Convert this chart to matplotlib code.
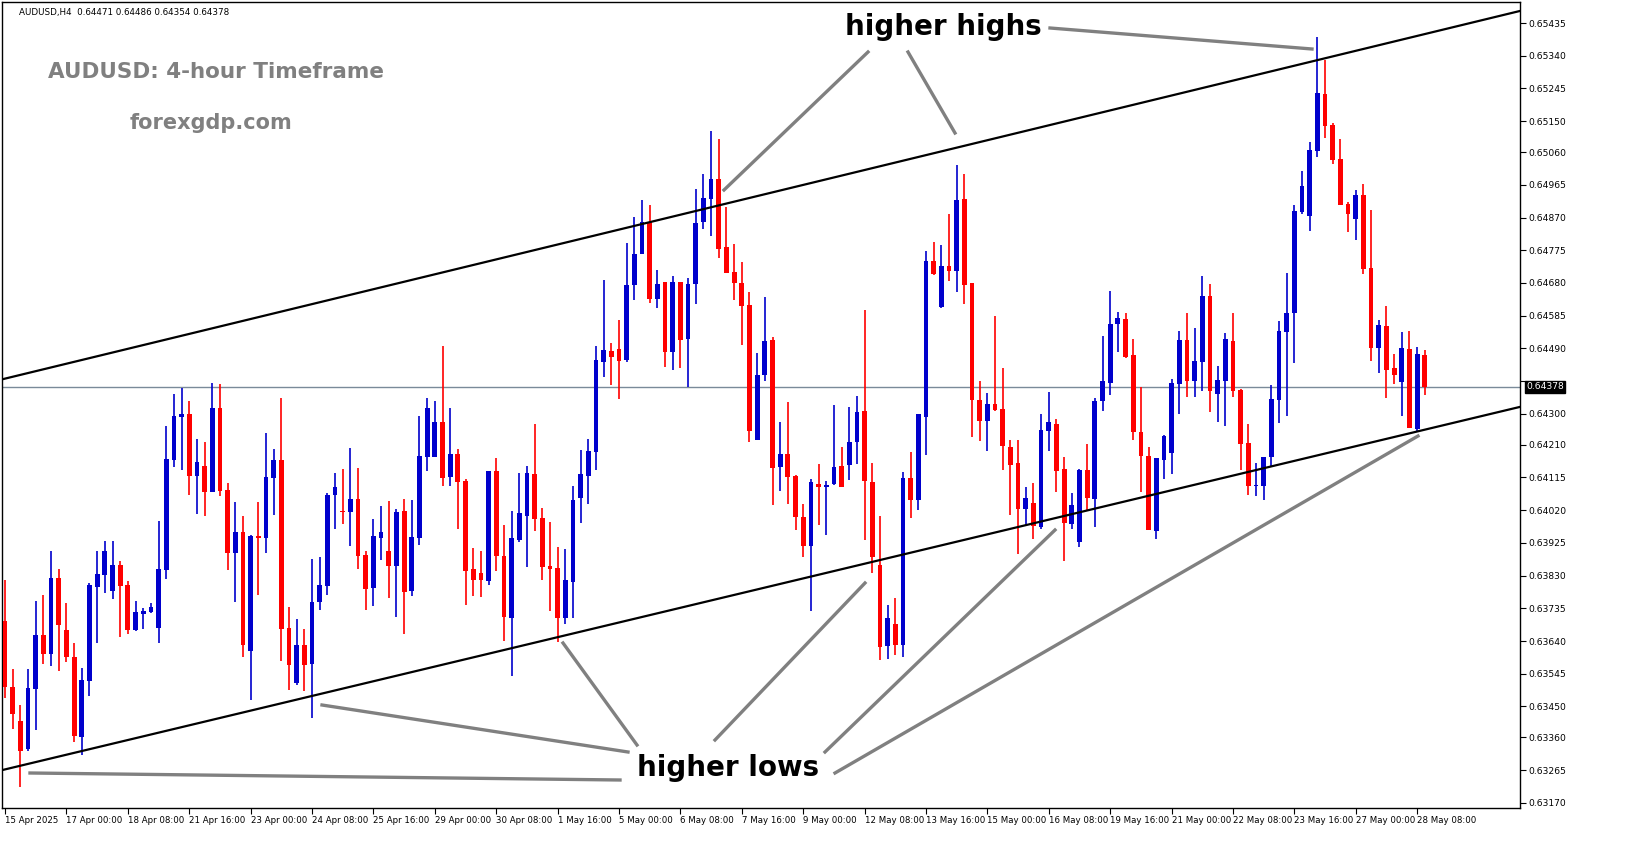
import numpy as np
import matplotlib
matplotlib.use("Agg")
import matplotlib.pyplot as plt
from matplotlib.lines import Line2D

# AUDUSD H4 candles (open, high, low, close)
opens = [0.63697, 0.63505, 0.63408, 0.63325, 0.63501, 0.63657, 0.63601, 0.63823, 0.63672, 0.63595,
         0.63362, 0.63524, 0.63798, 0.63831, 0.63784, 0.63860, 0.63803, 0.63672, 0.63718, 0.63723,
         0.63678, 0.63846, 0.64165, 0.64291, 0.64299, 0.64120, 0.64147, 0.64074, 0.64316, 0.64079,
         0.63895, 0.63957, 0.63610, 0.63945, 0.63938, 0.64114, 0.64165, 0.63677, 0.63519, 0.63629,
         0.63573, 0.63752, 0.63801, 0.64063, 0.64019, 0.64014, 0.64053, 0.63891, 0.63795, 0.63939,
         0.63900, 0.63858, 0.64019, 0.63784, 0.63938, 0.64174, 0.64174, 0.64276, 0.64117, 0.64182,
         0.64105, 0.63848, 0.63837, 0.63815, 0.64133, 0.63888, 0.63707, 0.63934, 0.64003, 0.64125,
         0.63996, 0.63857, 0.63851, 0.63707, 0.63812, 0.64054, 0.64120, 0.64188, 0.64450, 0.64481,
         0.64487, 0.64457, 0.64674, 0.64765, 0.64856, 0.64633, 0.64683, 0.64480, 0.64683, 0.64516,
         0.64676, 0.64857, 0.64923, 0.64981, 0.64784, 0.64711, 0.64680, 0.64616, 0.64225, 0.64412,
         0.64514, 0.64144, 0.64184, 0.64118, 0.64001, 0.63915, 0.64096, 0.64088, 0.64096, 0.64148,
         0.64150, 0.64217, 0.64308, 0.64103, 0.63862, 0.63625, 0.63689, 0.63627, 0.64114, 0.64049,
         0.64292, 0.64744, 0.64610, 0.64730, 0.64714, 0.64924, 0.64679, 0.64340, 0.64278, 0.64328,
         0.64314, 0.64204, 0.64157, 0.64024, 0.64041, 0.63970, 0.64249, 0.64271, 0.64140, 0.63981,
         0.63927, 0.64138, 0.64052, 0.64337, 0.64389, 0.64562, 0.64576, 0.64471, 0.64246, 0.64178,
         0.63959, 0.64167, 0.64186, 0.64387, 0.64515, 0.64396, 0.64450, 0.64643, 0.64357, 0.64396,
         0.64512, 0.64369, 0.64214, 0.64091, 0.64091, 0.64175, 0.64339, 0.64538, 0.64592, 0.64885,
         0.64874, 0.65062, 0.65230, 0.65139, 0.65039, 0.64908, 0.64865, 0.64936, 0.64723, 0.64490,
         0.64555, 0.64433, 0.64393, 0.64487, 0.64256, 0.64471]
highs = [0.63816, 0.63558, 0.63455, 0.63558, 0.63757, 0.63774, 0.63902, 0.63848, 0.63751, 0.63634,
         0.63563, 0.63809, 0.63900, 0.63931, 0.63931, 0.63871, 0.63814, 0.63757, 0.63737, 0.63751,
         0.63988, 0.64264, 0.64358, 0.64375, 0.64338, 0.64227, 0.64219, 0.64390, 0.64387, 0.64099,
         0.64045, 0.64002, 0.63948, 0.64045, 0.64244, 0.64199, 0.64347, 0.63740, 0.63703, 0.63674,
         0.63877, 0.63885, 0.64070, 0.64128, 0.64139, 0.64202, 0.64142, 0.63902, 0.63994, 0.64033,
         0.64048, 0.64022, 0.64053, 0.64051, 0.64293, 0.64347, 0.64336, 0.64498, 0.64318, 0.64199,
         0.64111, 0.63911, 0.63902, 0.64133, 0.64173, 0.63976, 0.64019, 0.64128, 0.64147, 0.64270,
         0.64025, 0.63985, 0.63914, 0.63908, 0.64090, 0.64196, 0.64227, 0.64498, 0.64689, 0.64506,
         0.64572, 0.64797, 0.64871, 0.64922, 0.64906, 0.64718, 0.64683, 0.64700, 0.64683, 0.64694,
         0.64954, 0.64995, 0.65122, 0.65098, 0.64900, 0.64792, 0.64740, 0.64653, 0.64476, 0.64638,
         0.64522, 0.64276, 0.64333, 0.64123, 0.64038, 0.64112, 0.64154, 0.64106, 0.64325, 0.64203,
         0.64319, 0.64352, 0.64600, 0.64157, 0.64003, 0.63746, 0.63766, 0.64131, 0.64188, 0.64188,
         0.64773, 0.64798, 0.64790, 0.64881, 0.65023, 0.64995, 0.64679, 0.64394, 0.64359, 0.64585,
         0.64433, 0.64224, 0.64224, 0.64087, 0.64100, 0.64298, 0.64362, 0.64285, 0.64174, 0.64069,
         0.64141, 0.64212, 0.64345, 0.64526, 0.64656, 0.64597, 0.64593, 0.64516, 0.64378, 0.64203,
         0.64173, 0.64239, 0.64401, 0.64540, 0.64594, 0.64548, 0.64700, 0.64677, 0.64438, 0.64535,
         0.64592, 0.64372, 0.64270, 0.64158, 0.64175, 0.64384, 0.64569, 0.64708, 0.64905, 0.65005,
         0.65090, 0.65395, 0.65327, 0.65144, 0.65099, 0.64916, 0.64951, 0.64968, 0.64891, 0.64572,
         0.64612, 0.64473, 0.64537, 0.64540, 0.64494, 0.64486]
lows = [0.63474, 0.63385, 0.63215, 0.63320, 0.63382, 0.63573, 0.63567, 0.63553, 0.63578, 0.63348,
        0.63308, 0.63479, 0.63634, 0.63780, 0.63763, 0.63653, 0.63661, 0.63669, 0.63674, 0.63720,
        0.63635, 0.63821, 0.64146, 0.64137, 0.64063, 0.64009, 0.64003, 0.64074, 0.64060, 0.63846,
        0.63752, 0.63593, 0.63470, 0.63775, 0.63895, 0.64006, 0.63581, 0.63499, 0.63513, 0.63496,
        0.63416, 0.63729, 0.63775, 0.63966, 0.63980, 0.63915, 0.63849, 0.63729, 0.63741, 0.63875,
        0.63764, 0.63710, 0.63661, 0.63772, 0.63918, 0.64134, 0.64174, 0.64089, 0.64091, 0.63966,
        0.63744, 0.63772, 0.63769, 0.63804, 0.63843, 0.63641, 0.63538, 0.63928, 0.63855, 0.63960,
        0.63818, 0.63727, 0.63638, 0.63690, 0.63707, 0.63983, 0.64037, 0.64137, 0.64408, 0.64383,
        0.64342, 0.64450, 0.64631, 0.64765, 0.64623, 0.64608, 0.64435, 0.64426, 0.64433, 0.64378,
        0.64620, 0.64836, 0.64815, 0.64753, 0.64708, 0.64631, 0.64499, 0.64218, 0.64225, 0.64396,
        0.64034, 0.64077, 0.64039, 0.63963, 0.63885, 0.63728, 0.63977, 0.63947, 0.64092, 0.64086,
        0.64109, 0.64154, 0.63934, 0.63839, 0.63586, 0.63587, 0.63599, 0.63593, 0.63998, 0.64021,
        0.64181, 0.64702, 0.64607, 0.64687, 0.64654, 0.64620, 0.64232, 0.64221, 0.64192, 0.64309,
        0.64138, 0.64007, 0.63893, 0.63978, 0.63936, 0.63964, 0.64192, 0.64072, 0.63872, 0.63964,
        0.63913, 0.64018, 0.63970, 0.64309, 0.64355, 0.64480, 0.64461, 0.64224, 0.64072, 0.63961,
        0.63936, 0.64112, 0.64124, 0.64298, 0.64350, 0.64350, 0.64367, 0.64305, 0.64275, 0.64265,
        0.64350, 0.64138, 0.64065, 0.64062, 0.64051, 0.64148, 0.64273, 0.64293, 0.64447, 0.64879,
        0.64832, 0.65046, 0.65100, 0.65026, 0.64906, 0.64829, 0.64806, 0.64707, 0.64453, 0.64419,
        0.64345, 0.64387, 0.64293, 0.64259, 0.64248, 0.64354]
closes = [0.63507, 0.63427, 0.63322, 0.63503, 0.63657, 0.63601, 0.63823, 0.63687, 0.63593, 0.63365,
          0.63526, 0.63803, 0.63834, 0.63900, 0.63860, 0.63801, 0.63672, 0.63723, 0.63726, 0.63740,
          0.63848, 0.64170, 0.64293, 0.64299, 0.64120, 0.64159, 0.64074, 0.64316, 0.64077, 0.63896,
          0.63957, 0.63627, 0.63945, 0.63940, 0.64116, 0.64165, 0.63675, 0.63570, 0.63629, 0.63570,
          0.63754, 0.63803, 0.64065, 0.64088, 0.64014, 0.64053, 0.63886, 0.63792, 0.63945, 0.63957,
          0.63858, 0.64016, 0.63781, 0.63942, 0.64176, 0.64318, 0.64276, 0.64114, 0.64182, 0.64103,
          0.63843, 0.63818, 0.63818, 0.64133, 0.63886, 0.63710, 0.63939, 0.64011, 0.64128, 0.63995,
          0.63855, 0.63849, 0.63707, 0.63818, 0.64051, 0.64125, 0.64193, 0.64455, 0.64484, 0.64466,
          0.64452, 0.64673, 0.64765, 0.64856, 0.64633, 0.64676, 0.64480, 0.64683, 0.64515, 0.64678,
          0.64854, 0.64927, 0.64981, 0.64780, 0.64708, 0.64680, 0.64612, 0.64250, 0.64414, 0.64511,
          0.64142, 0.64184, 0.64115, 0.64001, 0.63917, 0.64103, 0.64088, 0.64094, 0.64146, 0.64088,
          0.64219, 0.64306, 0.64104, 0.63883, 0.63622, 0.63706, 0.63627, 0.64114, 0.64049, 0.64299,
          0.64744, 0.64707, 0.64730, 0.64714, 0.64921, 0.64674, 0.64340, 0.64278, 0.64328, 0.64312,
          0.64206, 0.64152, 0.64024, 0.64054, 0.63975, 0.64252, 0.64275, 0.64135, 0.63983, 0.64035,
          0.64138, 0.64054, 0.64337, 0.64394, 0.64562, 0.64579, 0.64466, 0.64246, 0.64178, 0.63961,
          0.64171, 0.64236, 0.64388, 0.64515, 0.64396, 0.64452, 0.64643, 0.64367, 0.64398, 0.64517,
          0.64367, 0.64211, 0.64091, 0.64093, 0.64175, 0.64344, 0.64540, 0.64592, 0.64888, 0.64962,
          0.65065, 0.65233, 0.65136, 0.65037, 0.64906, 0.64879, 0.64936, 0.64721, 0.64490, 0.64557,
          0.64427, 0.64413, 0.64490, 0.64259, 0.64473, 0.64378]

date_labels = ["15 Apr 2025", "17 Apr 00:00", "18 Apr 08:00", "21 Apr 16:00", "23 Apr 00:00",
               "24 Apr 08:00", "25 Apr 16:00", "29 Apr 00:00", "30 Apr 08:00", "1 May 16:00",
               "5 May 00:00", "6 May 08:00", "7 May 16:00", "9 May 00:00", "12 May 08:00",
               "13 May 16:00", "15 May 00:00", "16 May 08:00", "19 May 16:00", "21 May 00:00",
               "22 May 08:00", "23 May 16:00", "27 May 00:00", "28 May 08:00"]
price_ticks = [0.65435, 0.65340, 0.65245, 0.65150, 0.65060, 0.64965, 0.64870, 0.64775, 0.64680,
               0.64585, 0.64490, 0.64395, 0.64300, 0.64210, 0.64115, 0.64020, 0.63925, 0.63830,
               0.63735, 0.63640, 0.63545, 0.63450, 0.63360, 0.63265, 0.63170]
last_price = 0.64378

# channel lines: (bar position, price) end points
upper_x, upper_y = [-0.4, 197.4], [0.64400, 0.65470]
lower_x, lower_y = [-0.4, 197.4], [0.63265, 0.64320]

W, H = 1631, 861
fig = plt.figure(figsize=(W / 100, H / 100), dpi=100)
fig.patch.set_facecolor("white")
ax = fig.add_axes([2 / W, 1 - 808 / H, (1520 - 2) / W, (808 - 2) / H])

n = len(opens)
x = np.arange(n)
o, h, l, c = map(np.array, (opens, highs, lows, closes))
up = c >= o
col = np.where(up, "#0000cc", "#ff0000")
ax.vlines(x, l, h, colors=col, linewidth=1.2, zorder=3)
ax.bar(x, np.maximum(np.abs(c - o), 0.00002), bottom=np.minimum(o, c), width=0.62,
       color=col, linewidth=0, zorder=4)

ax.plot(upper_x, upper_y, color="black", linewidth=1.6, zorder=5)
ax.plot(lower_x, lower_y, color="black", linewidth=1.6, zorder=5)
ax.axhline(last_price, color="#7a8a99", linewidth=1, zorder=2)

ax.set_xlim(-0.4, 197.4)
ax.set_ylim(0.63155, 0.65496)
ax.yaxis.tick_right()
ax.set_yticks(price_ticks)
# the 0.64395 label is covered by the last-price box in the original
ax.set_yticklabels(["" if abs(p - 0.64395) < 1e-7 else f"{p:.5f}" for p in price_ticks],
                   fontsize=6.6)
ax.set_xticks(np.arange(len(date_labels)) * 8)
ax.set_xticklabels(date_labels, fontsize=6.2, ha="left")
ax.tick_params(axis="x", length=4, pad=2)
ax.tick_params(axis="y", length=4, pad=2)
for s in ax.spines.values():
    s.set_color("black")
    s.set_linewidth(1)

ax.text(1.004, last_price, f"{last_price:.5f}", transform=ax.get_yaxis_transform(),
        fontsize=6.6, color="white", va="center", ha="left", zorder=10,
        bbox=dict(boxstyle="square,pad=0.15", fc="black", ec="black"))

ax.text(0.011, 0.987, "AUDUSD,H4  0.64471 0.64486 0.64354 0.64378", transform=ax.transAxes,
        fontsize=6.3, va="center", ha="left")
ax.text(0.141, 0.913, "AUDUSD: 4-hour Timeframe", transform=ax.transAxes, fontsize=15.5,
        fontweight="bold", color="#808080", ha="center", va="center")
ax.text(0.138, 0.850, "forexgdp.com", transform=ax.transAxes, fontsize=15,
        fontweight="bold", color="#808080", ha="center", va="center")


def fp(px, py):
    return px / W, 1 - py / H


ann_lines = [((868, 52), (724, 190)), ((908, 52), (955, 133)), ((1050, 28), (1312, 49)),
             ((30, 773), (620, 780)), ((322, 705), (628, 752)), ((563, 643), (637, 745)),
             ((865, 583), (715, 740)), ((1055, 530), (825, 752)), ((1418, 436), (835, 773))]
for a, b in ann_lines:
    (x0, y0), (x1, y1) = fp(*a), fp(*b)
    fig.add_artist(Line2D([x0, x1], [y0, y1], color="#808080", linewidth=2.4, zorder=8))

fig.text(*fp(943, 27), "higher highs", fontsize=20, fontweight="bold", ha="center", va="center")
fig.text(*fp(728, 768), "higher lows", fontsize=20, fontweight="bold", ha="center", va="center")

fig.savefig("out.png", dpi=100)
